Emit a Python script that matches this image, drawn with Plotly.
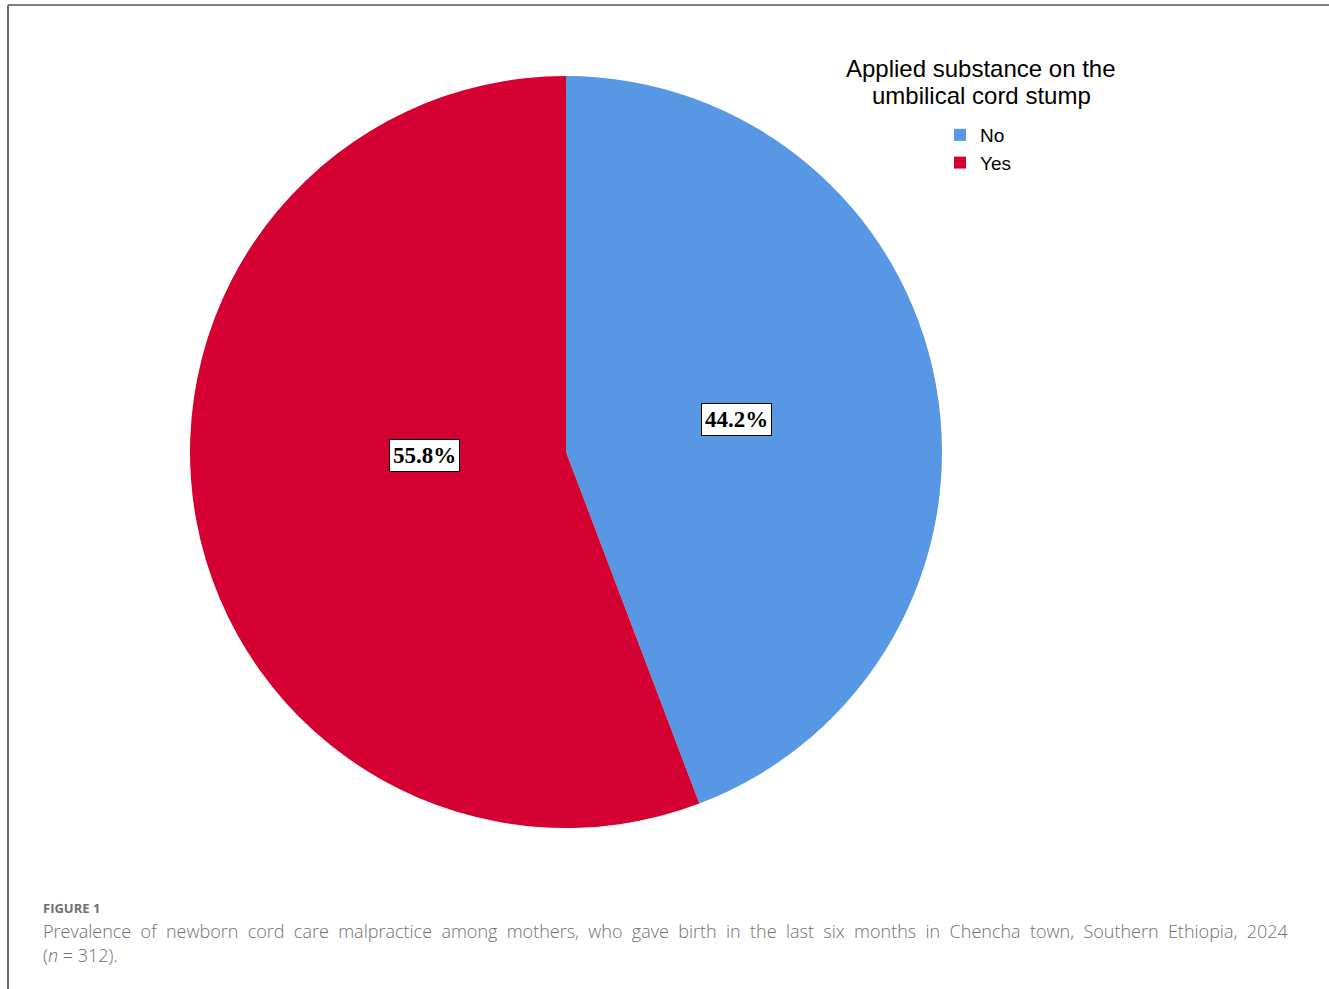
import plotly.graph_objects as go

# ---- data ----
categories = ["No", "Yes"]
counts = [138, 174]          # n = 312
colors = ["#5797E4", "#D30031"]
legend_title_lines = ["Applied substance on the", "umbilical cord stump"]
caption_head = "FIGURE 1"
caption_line1 = ("Prevalence of newborn cord care malpractice among mothers, who gave birth "
                 "in the last six months in Chencha town, Southern Ethiopia, 2024")
caption_line2 = "(<i>n</i> = 312)."

W, H = 1329, 989
total = sum(counts)
pcts = [c / total * 100 for c in counts]

# pie geometry (pixels)
cx, cy, r = 566, 452, 376

fig = go.Figure()
fig.add_trace(go.Pie(
    labels=categories,
    values=counts,
    sort=False,
    direction="clockwise",
    rotation=0,
    marker=dict(colors=colors, line=dict(width=0)),
    textinfo="none",
    hoverinfo="label+percent",
    domain=dict(x=[(cx - r) / W, (cx + r) / W],
                y=[(H - cy - r) / H, (H - cy + r) / H]),
))

# percentage label boxes
label_pos = [(736, 420), (424, 455)]
for (px, py), p in zip(label_pos, pcts):
    fig.add_annotation(
        x=px / W, y=(H - py) / H, xref="paper", yref="paper",
        text=f"<b>{p:.1f}%</b>", showarrow=False,
        font=dict(family="Liberation Serif, Times New Roman, serif", size=23, color="black"),
        bgcolor="white", bordercolor="black", borderwidth=1, borderpad=3,
        xanchor="center", yanchor="middle",
    )

# legend title (two lines)
for line, ly in zip(legend_title_lines, [68, 95]):
    fig.add_annotation(
        x=981 / W, y=(H - ly) / H, xref="paper", yref="paper",
        text=line, showarrow=False, align="center",
        font=dict(family="Liberation Sans, Arial, sans-serif", size=24, color="black"),
        xanchor="center", yanchor="middle",
    )

# caption (justified look: widened word gaps)
cap_font = "Open Sans, Noto Sans, sans-serif"
justified_line1 = " \u00a0".join(caption_line1.split(" "))
fig.add_annotation(
    x=41 / W, y=(H - 908) / H, xref="paper", yref="paper",
    text=f"<b>{caption_head}</b>", showarrow=False,
    font=dict(family=cap_font, size=13, color="#6e6e6e"),
    xanchor="left", yanchor="middle",
)
fig.add_annotation(
    x=41 / W, y=(H - 931) / H, xref="paper", yref="paper",
    text=justified_line1, showarrow=False,
    font=dict(family=cap_font, size=18, color="#707070", weight=300),
    xanchor="left", yanchor="middle",
)
fig.add_annotation(
    x=41 / W, y=(H - 955) / H, xref="paper", yref="paper",
    text=caption_line2, showarrow=False,
    font=dict(family=cap_font, size=18, color="#707070", weight=300),
    xanchor="left", yanchor="middle",
)

# frame lines (top and left)
fig.add_shape(type="line", xref="paper", yref="paper",
              x0=8 / W, x1=1, y0=(H - 5) / H, y1=(H - 5) / H,
              line=dict(color="#808080", width=2))
fig.add_shape(type="line", xref="paper", yref="paper",
              x0=8 / W, x1=8 / W, y0=0, y1=(H - 5) / H,
              line=dict(color="#6a6a6a", width=2))

fig.update_layout(
    width=W, height=H,
    margin=dict(l=0, r=0, t=0, b=0),
    paper_bgcolor="white", plot_bgcolor="white",
    showlegend=True,
    legend=dict(
        x=940 / W, y=(H - 116) / H, xanchor="left", yanchor="top",
        font=dict(family="Liberation Sans Narrow, Liberation Sans, Arial, sans-serif",
                  size=19, color="black"),
        bgcolor="rgba(0,0,0,0)", borderwidth=0, traceorder="normal",
        itemclick=False, itemdoubleclick=False, tracegroupgap=0,
    ),
)

fig.write_html("out.html",
               config={"displayModeBar": False},
               post_script="document.body.style.margin='0';document.body.style.padding='0';")
